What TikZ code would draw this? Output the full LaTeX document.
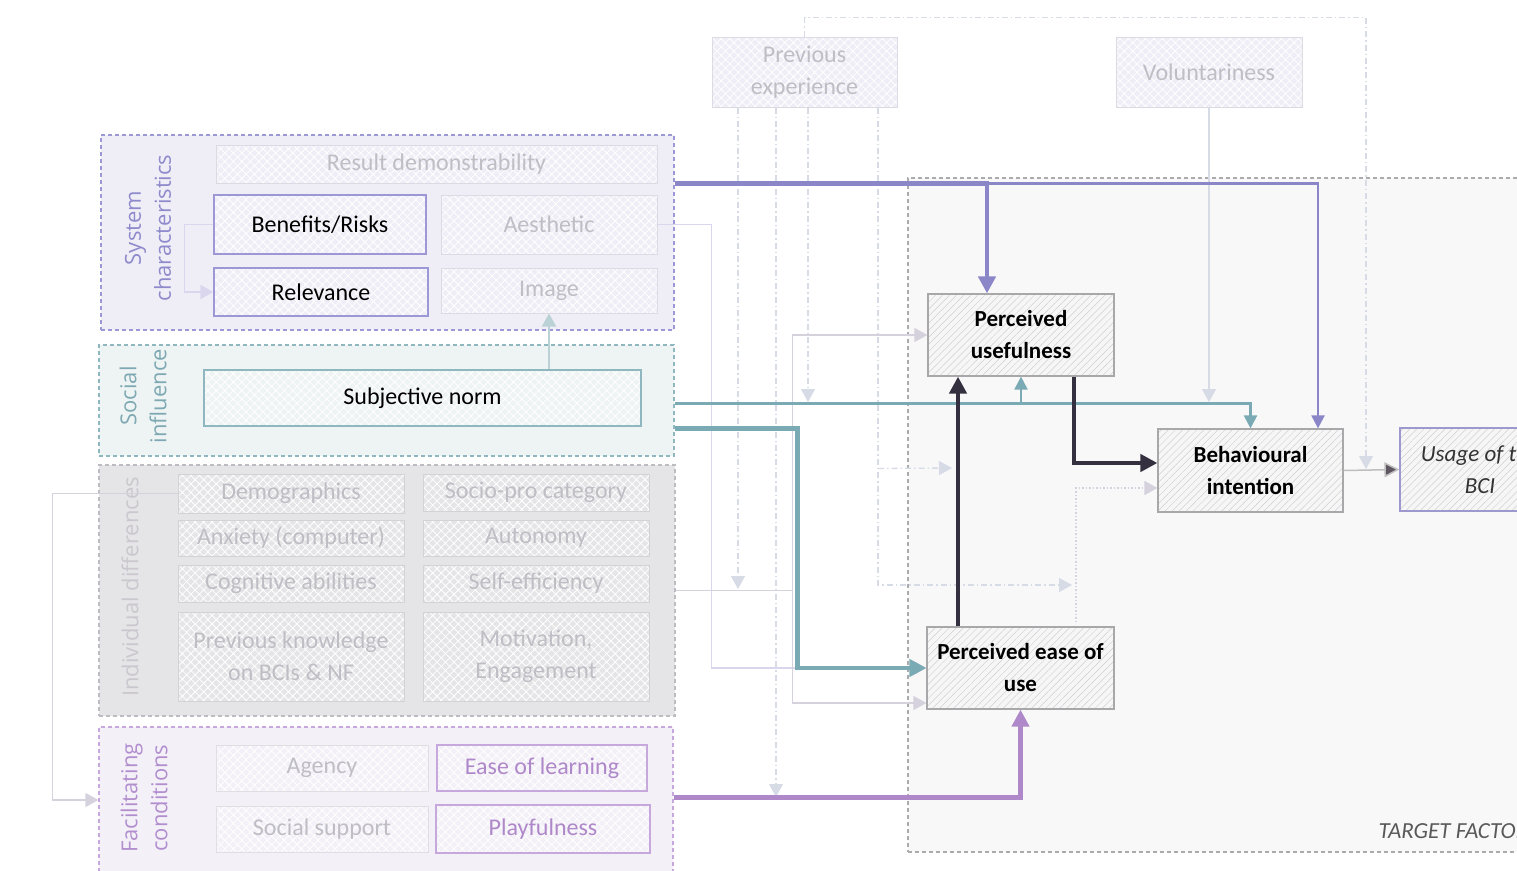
\documentclass[tikz,border=0pt]{standalone}
\usepackage{fontspec}
\setmainfont{Carlito}
\newfontfamily\grpfont{Open Sans}
\usetikzlibrary{arrows.meta,calc,patterns.meta}

\definecolor{sysline}{HTML}{9C98D6}
\definecolor{sysfill}{HTML}{EFEEF7}
\definecolor{syslbl}{HTML}{8E8ACB}
\definecolor{sysarr}{HTML}{8A86C8}
\definecolor{socline}{HTML}{8FB7BF}
\definecolor{socfill}{HTML}{EEF3F4}
\definecolor{soclbl}{HTML}{7EA9B2}
\definecolor{socarr}{HTML}{7AAAB3}
\definecolor{indline}{HTML}{BEBCC2}
\definecolor{indfill}{HTML}{E5E4E7}
\definecolor{indlbl}{HTML}{CAC8CE}
\definecolor{fcline}{HTML}{C6A8DC}
\definecolor{fcfill}{HTML}{F3F0F7}
\definecolor{fclbl}{HTML}{B28ECF}
\definecolor{fcarr}{HTML}{AF88CA}
\definecolor{fadetext}{HTML}{BFBEC5}
\definecolor{coreline}{HTML}{A8A8AA}
\definecolor{corefill}{HTML}{F6F6F7}
\definecolor{corehatch}{HTML}{D0D0D2}
\definecolor{darkarr}{HTML}{34303F}
\definecolor{tgtfill}{HTML}{F8F8F9}
\definecolor{tgtline}{HTML}{ABABAE}
\definecolor{modline}{HTML}{D6DBE6}
\definecolor{lightlink}{HTML}{D5D2DD}
\definecolor{lightsys}{HTML}{D9D6EE}
\definecolor{lightsoc}{HTML}{BAD2D6}
\definecolor{usageline}{HTML}{9D99CF}
\definecolor{usagearr}{HTML}{5E5660}

\tikzset{
  grp/.style={draw=#1, line width=1.2pt, dash pattern=on 4pt off 3pt},
  grplabel/.style={rotate=90, align=center, font=\grpfont\fontsize{22}{30}\selectfont},
  fadebox/.style={draw=#1!92!black, line width=1pt, text=fadetext, align=center,
    font=\fontsize{24}{32}\selectfont, preaction={fill=#1},
    preaction={pattern={Hatch[angle=45,distance=6pt,line width=0.8pt]}, pattern color=white}},
  keybox/.style 2 args={draw=#1, line width=1.2pt, align=center,
    font=\fontsize{24}{32}\selectfont, preaction={fill=#2},
    preaction={pattern={Hatch[angle=45,distance=6pt,line width=0.8pt]}, pattern color=white}},
  corebox/.style={draw=coreline, line width=1.2pt, align=center,
    font=\bfseries\fontsize{23}{32}\selectfont, preaction={fill=corefill},
    preaction={pattern={Lines[angle=45,distance=5pt,line width=0.5pt]}, pattern color=corehatch}},
  thickarr/.style={line width=4.5pt, -{Triangle[length=17pt,width=17pt]}},
  thinarr/.style={line width=2.2pt, -{Triangle[length=13pt,width=13pt]}},
  lightarr/.style={line width=1.5pt, -{Triangle[length=13pt,width=14pt]}},
  modarr/.style={draw=modline, line width=1.3pt, dash pattern=on 6pt off 3pt on 1.5pt off 3pt,
    -{Triangle[length=13pt,width=14pt]}}
}

\begin{document}
\begin{tikzpicture}[x=1pt,y=1pt,yscale=-1,xscale=1]
\useasboundingbox (0,0) rectangle (1517,870);
\clip (0,0) rectangle (1517,870);

% Target factors area
\node[draw=tgtline, fill=tgtfill, line width=1.2pt, dash pattern=on 4pt off 3pt,
  minimum width=622pt, minimum height=674pt] (tgt) at (1219,515) {};
\node[anchor=west, text=black!65, font=\itshape\fontsize{23}{28}\selectfont] (tgtlab) at (1375,831) {TARGET FACTORS};

% Groups
\node[grp=sysline, fill=sysfill, minimum width=573pt, minimum height=195pt] (sysg) at (387.5,232.5) {};
\node[grp=socline, fill=socfill, minimum width=575pt, minimum height=111pt] (socg) at (386.5,400.5) {};
\node[grp=indline, fill=indfill, minimum width=576pt, minimum height=251pt] (indg) at (387,590.5) {};
\node[grp=fcline, fill=fcfill, minimum width=574pt, minimum height=146pt] (fcg) at (386,800) {};

% Group labels
\node[grplabel, text=syslbl] (syslab) at (148,228) {System\\characteristics};
\node[grplabel, text=soclbl] (soclab) at (143,396) {Social\\influence};
\node[grplabel, text=indlbl] (indlab) at (130,587) {Individual differences};
\node[grplabel, text=fclbl] (fclab) at (144,798) {Facilitating\\conditions};

% System characteristics
\node[fadebox=sysfill, minimum width=441pt, minimum height=38pt] (res) at (436.5,164) {Result demonstrability};
\node[keybox={sysline}{sysfill}, minimum width=212pt, minimum height=59pt] (ben) at (320,224.5) {Benefits/Risks};
\node[fadebox=sysfill, minimum width=216pt, minimum height=59pt] (aes) at (549,224.5) {Aesthetic};
\node[keybox={sysline}{sysfill}, minimum width=214pt, minimum height=48pt] (rel) at (321,292) {Relevance};
\node[fadebox=sysfill, minimum width=216pt, minimum height=45pt] (img) at (549,290.5) {Image};

% Social influence
\node[keybox={socline}{socfill}, minimum width=437pt, minimum height=56pt] (subj) at (422.5,398) {Subjective norm};

% Individual differences
\node[fadebox=indfill, minimum width=226pt, minimum height=39pt] (demo) at (291,493.5) {Demographics};
\node[fadebox=indfill, minimum width=226pt, minimum height=37pt] (socio) at (536,492.5) {Socio-pro category};
\node[fadebox=indfill, minimum width=226pt, minimum height=36pt] (anx) at (291,538) {Anxiety (computer)};
\node[fadebox=indfill, minimum width=226pt, minimum height=36pt] (auto) at (536,538) {Autonomy};
\node[fadebox=indfill, minimum width=226pt, minimum height=37pt] (cog) at (291,583.5) {Cognitive abilities};
\node[fadebox=indfill, minimum width=226pt, minimum height=37pt] (self) at (536,583.5) {Self-efficiency};
\node[fadebox=indfill, minimum width=226pt, minimum height=89pt] (know) at (291,656.5) {Previous knowledge\\on BCIs \& NF};
\node[fadebox=indfill, minimum width=226pt, minimum height=89pt] (moti) at (536,656.5) {Motivation,\\Engagement};

% Facilitating conditions
\node[fadebox=fcfill, minimum width=212pt, minimum height=46pt] (agency) at (322,768) {Agency};
\node[keybox={fcline}{fcfill}, text=fcarr, minimum width=210pt, minimum height=46pt] (ease) at (542,768) {Ease of learning};
\node[fadebox=fcfill, minimum width=212pt, minimum height=46pt] (socsup) at (322,829) {Social support};
\node[keybox={fcline}{fcfill}, text=fcarr, minimum width=214pt, minimum height=48pt] (play) at (543,829) {Playfulness};

% Moderators
\node[fadebox=sysfill, minimum width=185pt, minimum height=70pt] (prevexp) at (804.5,72) {Previous\\experience};
\node[fadebox=sysfill, minimum width=186pt, minimum height=70pt] (volun) at (1209,72) {Voluntariness};

% Target factors
\node[corebox, minimum width=186pt, minimum height=82pt] (pu) at (1021,335) {Perceived\\usefulness};
\node[corebox, minimum width=185pt, minimum height=83pt] (bi) at (1250.5,470.5) {Behavioural\\intention};
\node[corebox, minimum width=187pt, minimum height=82pt] (peou) at (1020.5,668) {Perceived ease of\\use};
\node[corebox, draw=usageline, text=black!80, font=\itshape\fontsize{23}{32}\selectfont,
  minimum width=160pt, minimum height=83pt] (usage) at (1480,469.5) {Usage of the\\BCI};

% Moderation points
\coordinate (modA) at (738,589);
\coordinate (modB) at (776,797);
\coordinate (modC) at (808,402);
\coordinate (modD) at (952,468);
\coordinate (modE) at (1072,585);
\coordinate (modF) at (1366,469);
\coordinate (modG) at (1209,402);
\coordinate (modH) at (1076,622);

% Light links
\draw[lightarr, draw=lightsys] (ben.west) -- ++(-29,0) |- (rel.west);
\draw[lightarr, draw=lightsoc] ($(subj.north)+(126.5,0)$) -- (img.south);
\draw[lightarr, draw=lightlink] (demo.west) -- ++(-125,0) |- (fcg.west);
\draw[lightarr, draw=lightsys] (aes.east) -| ($(peou.west)+(-215,0)$) -- (peou.west);
\draw[lightarr, draw=lightlink] (indg.east) -| ($(pu.west)+(-135,0)$) -- (pu.west);
\draw[lightarr, draw=lightlink] (indg.east) -| ($(peou.west)+(-134,35)$) -- ($(peou.west)+(0,35)$);
\draw[lightarr, draw=lightlink, dotted] (modH) |- ($(bi.west)+(0,17.5)$);

% Previous experience / voluntariness
\draw[modarr] ($(prevexp.south)+(-66.5,0)$) -- (modA);
\draw[modarr] ($(prevexp.south)+(-28.5,0)$) -- (modB);
\draw[modarr] ($(prevexp.south)+(3.5,0)$) -- (modC);
\draw[modarr] ($(prevexp.south)+(73.5,0)$) |- (modE);
\draw[modarr] ($(prevexp.south)+(73.5,361)$) -- (modD);
\draw[modarr] (prevexp.north) -- ++(0,-19) -| (modF);
\draw[lightarr, draw=modline] (volun.south) -- (modG);

% Main links
\draw[thinarr, draw=sysarr] ($(sysg.north east)+(0,49)$) -| ($(bi.north)+(67.5,0)$);
\draw[thickarr, draw=sysarr] ($(sysg.north east)+(0,49)$) -| ($(pu.north)+(-34,0)$);
\draw[thinarr, draw=socarr] ($(socg.east)+(0,3)$) -| (bi.north);
\draw[thinarr, draw=socarr] ($(pu.south)+(0,27)$) -- (pu.south);
\draw[thickarr, draw=socarr] ($(socg.east)+(0,28)$) -| ($(peou.west)+(-129,0)$) -- (peou.west);
\draw[thickarr, draw=darkarr] ($(peou.north)+(-62.5,0)$) -- ($(pu.south)+(-63,0)$);
\draw[thickarr, draw=darkarr] ($(pu.south)+(53,0)$) |- ($(bi.west)+(0,-7.5)$);
\draw[thickarr, draw=fcarr] ($(fcg.north east)+(0,71)$) -| (peou.south);
\draw[lightarr, draw=black!25, -{Triangle[length=15pt,width=15pt,fill=usagearr]}] (bi.east) -- (usage.west);
\end{tikzpicture}
\end{document}
